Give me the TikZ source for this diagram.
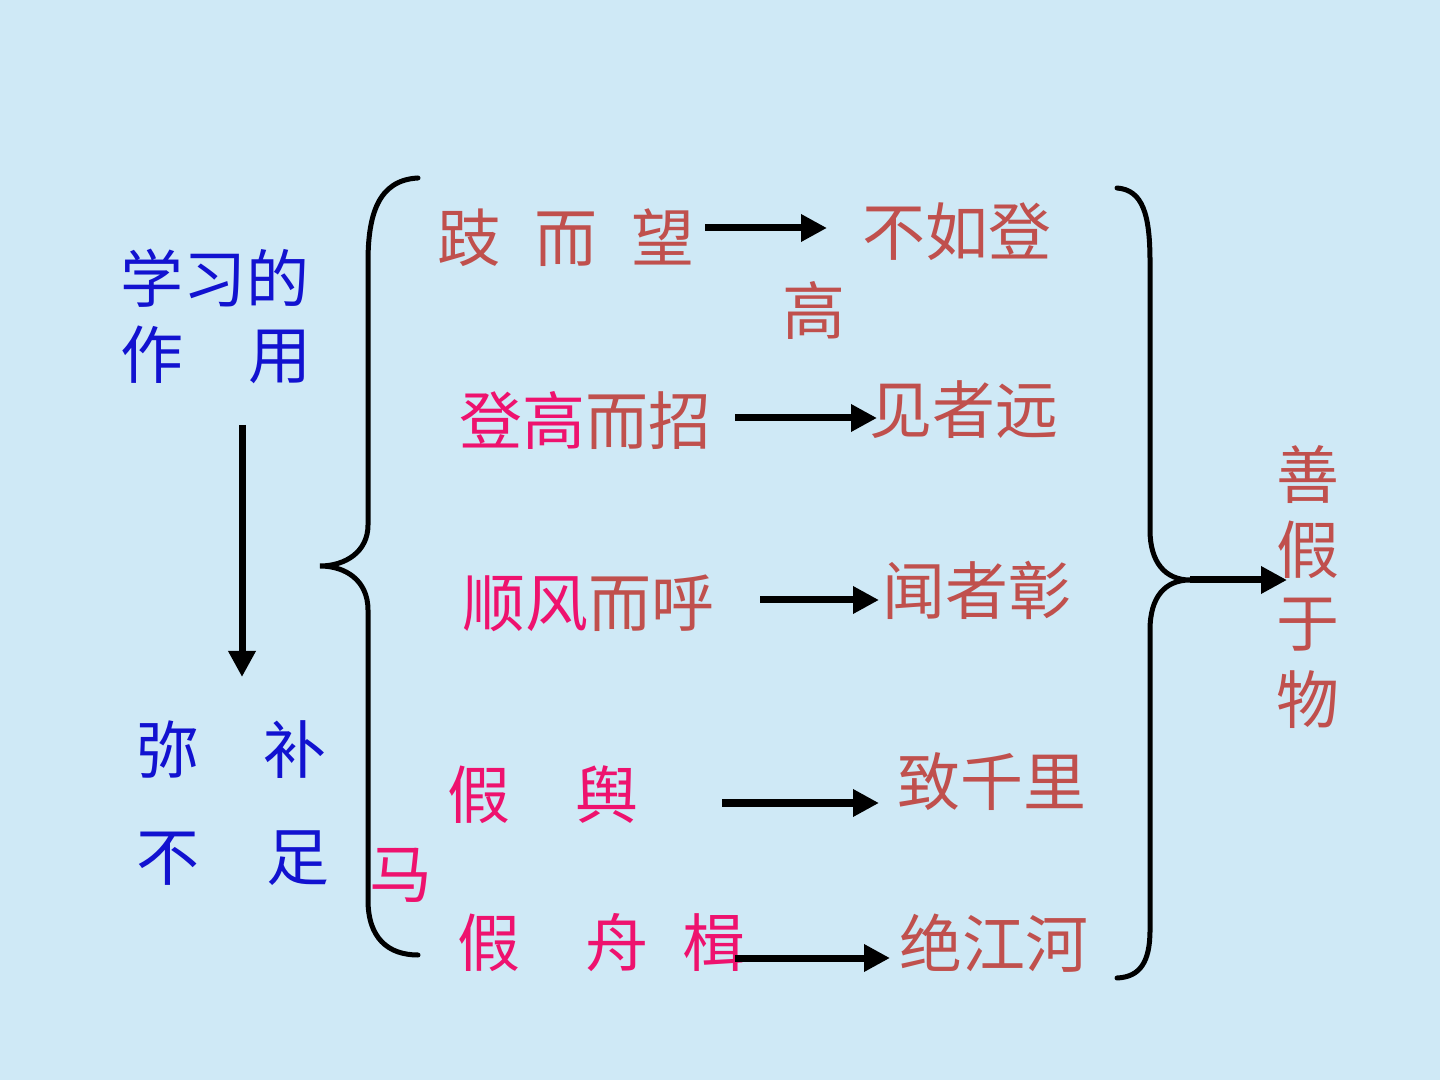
\documentclass[tikz,border=0pt]{standalone}
\usepackage{fontspec}
\newfontfamily\cjk{Noto Sans CJK SC}
\usetikzlibrary{arrows.meta}
\definecolor{bgblue}{RGB}{207,233,246}
\definecolor{brickred}{RGB}{192,80,77}
\definecolor{rosered}{RGB}{238,18,110}
\definecolor{deepblue}{RGB}{18,18,208}

\begin{document}
\begin{tikzpicture}[x=0.01cm,y=-0.01cm,
	every node/.style={inner sep=0pt,anchor=west,font=\cjk\fontsize{17.9}{21}\selectfont},
	brown/.style={text=brickred},
	pinktext/.style={text=rosered},
	bluetext/.style={text=deepblue},
	brace/.style={line width=0.5mm,line cap=round},
	arr/.style={line width=0.7mm,-{Triangle[length=2.6mm,width=2.6mm]}}]
	% Background
	\fill[bgblue] (0,0) rectangle (1440,1080);
	\useasboundingbox (0,0) rectangle (1440,1080);
	% Left column
	\node[bluetext] (xuexi) at (120,278) {学习的};
	\node[bluetext] (zuoyong) at (120,355) {作\hspace{0.65cm}用};
	\node[bluetext] (mibu) at (136,750) {弥\hspace{0.64cm}补};
	\node[bluetext] (buzu) at (136,858) {不\hspace{0.67cm}足};
	% Middle rows
	\node[brown] (qi) at (437,238) {跂\hspace{0.34cm}而\hspace{0.34cm}望};
	\node[brown] (buru) at (862,232) {不如登};
	\node[brown] (gao) at (782,310) {高};
	\node[brown] (denggao) at (459,420) {{\color{rosered}登高}而招};
	\node[brown] (jianzhe) at (869,410) {见者远};
	\node[brown] (shunfeng) at (462,603) {{\color{rosered}顺风}而呼};
	\node[brown] (wenzhe) at (882,590) {闻者彰};
	\node[pinktext] (jiayu) at (447,795) {假\hspace{0.65cm}舆};
	\node[pinktext] (ma) at (369,875) {马};
	\node[brown] (zhi) at (897,782) {致千里};
	\node[pinktext] (jiazhou) at (457,943) {假\hspace{0.65cm}舟\hspace{0.34cm}楫};
	\node[brown] (jue) at (899,943) {绝江河};
	% Right column
	\foreach \ch [count=\i] in {善,假,于,物}
		\node[brown,anchor=center] (shan\i) at (1308,400+75*\i) {\ch};
	% Define the coordinates
	\coordinate (ltip) at (320,566);
	\coordinate (rtip) at (1190,580);
	\coordinate (rend) at (1287,580);
	\coordinate (dtop) at (242,425);
	\coordinate (dbot) at (242,677);
	\coordinate (a1s) at (705,228);
	\coordinate (a1e) at (827,228);
	\coordinate (a2s) at (735,418);
	\coordinate (a2e) at (877,418);
	\coordinate (a3s) at (760,600);
	\coordinate (a3e) at (879,600);
	\coordinate (a4s) at (722,803);
	\coordinate (a4e) at (879,803);
	\coordinate (a5s) at (735,958);
	\coordinate (a5e) at (890,958);
	% Draw the braces
	\draw[brace] (418,178) .. controls (378,180) and (368,215) .. (368,262) -- (368,525)
		.. controls (368,552) and (345,566) .. (ltip)
		.. controls (345,566) and (368,580) .. (368,610) -- (368,900)
		.. controls (368,938) and (388,955) .. (418,955);
	\draw[brace] (1117,188) .. controls (1143,190) and (1150,215) .. (1150,262) -- (1150,530)
		.. controls (1150,562) and (1165,580) .. (rtip)
		.. controls (1165,580) and (1150,597) .. (1150,630) -- (1150,930)
		.. controls (1150,962) and (1140,977) .. (1117,978);
	% Draw the arrows
	\draw[arr] (dtop) -- (dbot);
	\draw[arr] (a1s) -- (a1e);
	\draw[arr] (a2s) -- (a2e);
	\draw[arr] (a3s) -- (a3e);
	\draw[arr] (a4s) -- (a4e);
	\draw[arr] (a5s) -- (a5e);
	\draw[arr] (rtip) -- (rend);
\end{tikzpicture}
\end{document}
